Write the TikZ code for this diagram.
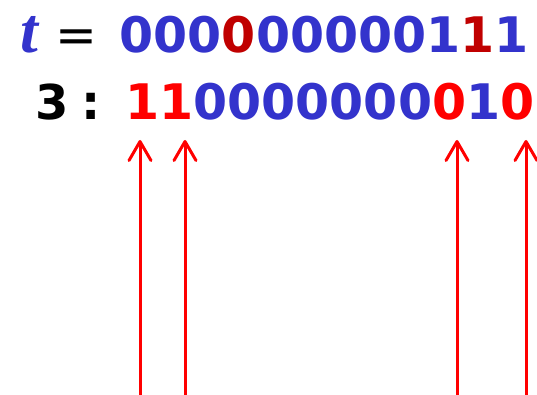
\documentclass[tikz,border=0pt]{standalone}
\usepackage{fontspec}
\setmainfont{DejaVu Sans}
\newfontfamily\tfont{Liberation Serif}
\usetikzlibrary{
    arrows.meta,
    positioning
}
\definecolor{bitblue}{RGB}{51,51,204}
\definecolor{flipred}{RGB}{192,0,0}
\definecolor{hitred}{RGB}{255,0,0}

\begin{document}
\begin{tikzpicture}[
        x=1pt, y=1pt,
        bits/.style={inner sep=0pt, anchor=base west, font=\fontsize{49}{56}\selectfont\bfseries, text=bitblue},
        lab/.style={inner sep=0pt, anchor=base west, font=\fontsize{48}{56}\selectfont\bfseries},
        arrow/.style={-{Straight Barb[length=19pt, width=22pt, round]}, line width=3pt, hitred}
    ]
        \useasboundingbox (0,0) rectangle (537,-395);

        % Row t
        \node[inner sep=0pt, anchor=base west, font=\tfont\fontsize{64}{70}\selectfont\bfseries\itshape, text=bitblue] (tvar) at (20,-53) {t};
        \node[lab, font=\fontsize{50}{56}\selectfont] (teq) at (55,-53) {=};
        \node[bits] (tbits) at (119.5,-53) {000\textcolor{flipred}{0}000001\textcolor{flipred}{1}1};

        % Row 3
        \node[lab] (klabel) at (35,-120) {3\hspace{13pt}:};
        \node[bits] (kbits) at (125,-120) {\textcolor{hitred}{11}0000000\textcolor{hitred}{0}1\textcolor{hitred}{0}};

        % Arrow ends
        \coordinate (atop1) at (140,-140);
        \coordinate (atop2) at (185,-140);
        \coordinate (atop3) at (457,-140);
        \coordinate (atop4) at (526,-140);
        \coordinate (abot1) at (140,-395);
        \coordinate (abot2) at (185,-395);
        \coordinate (abot3) at (457,-395);
        \coordinate (abot4) at (526,-395);

        % Arrows
        \draw[arrow] (abot1) -- (atop1);
        \draw[arrow] (abot2) -- (atop2);
        \draw[arrow] (abot3) -- (atop3);
        \draw[arrow] (abot4) -- (atop4);

    \end{tikzpicture}
\end{document}
